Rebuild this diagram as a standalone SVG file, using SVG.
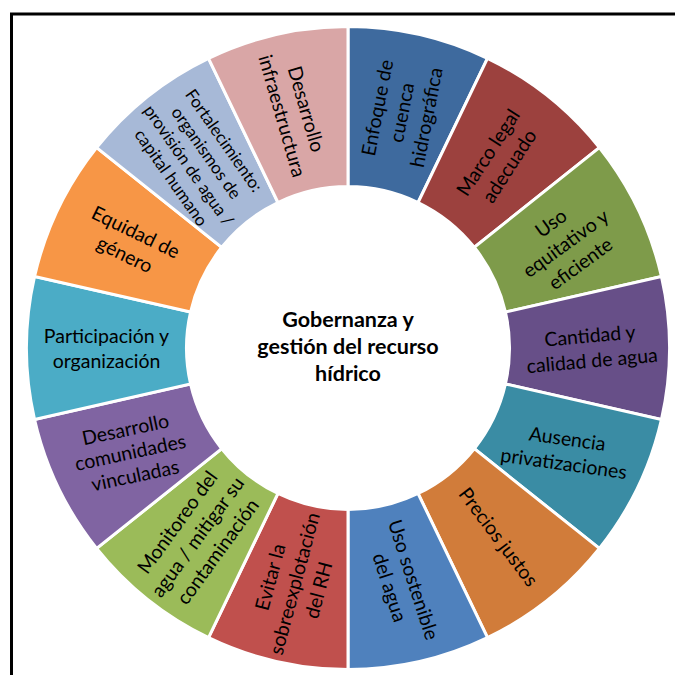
<svg xmlns="http://www.w3.org/2000/svg" width="675" height="675" viewBox="0 0 675 675">
<style>
.seg{stroke:#fff;stroke-width:3;stroke-linejoin:miter}
.lbl{font-family:Lato,"Liberation Sans",sans-serif;font-size:19.5px;fill:#000;text-anchor:middle}
.sm{font-size:17px}
.ctr{font-family:Lato,"Liberation Sans",sans-serif;font-size:21.5px;font-weight:bold;fill:#000;text-anchor:middle}
</style>
<rect x="0" y="0" width="675" height="675" fill="#fff"/>
<rect x="11.5" y="14" width="700" height="700" fill="none" stroke="#000" stroke-width="3"/>
<g id="ring">
<g id="n0"><path class="seg" fill="#3E6A9E" d="M348,26.5 A321.5,321.5 0 0 1 487.49,58.34 L418.07,202.49 A161.5,161.5 0 0 0 348,186.5 Z"/>
<text class="lbl" transform="translate(401.7,112.5) rotate(-79)"><tspan x="0" y="-18">Enfoque de</tspan><tspan x="0" y="7">cuenca</tspan><tspan x="0" y="32">hidrográfica</tspan></text></g>
<g id="n1"><path class="seg" fill="#9C413E" d="M487.49,58.34 A321.5,321.5 0 0 1 599.36,147.55 L474.27,247.31 A161.5,161.5 0 0 0 418.07,202.49 Z"/>
<text class="lbl" transform="translate(498.6,159.2) rotate(-57)"><tspan x="0" y="-5.5">Marco legal</tspan><tspan x="0" y="19.5">adecuado</tspan></text></g>
<g id="n2"><path class="seg" fill="#7E9B4A" d="M599.36,147.55 A321.5,321.5 0 0 1 661.44,276.46 L505.45,312.06 A161.5,161.5 0 0 0 474.27,247.31 Z"/>
<text class="lbl" transform="translate(565.6,243.2) rotate(-36)"><tspan x="0" y="-18">Uso</tspan><tspan x="0" y="7">equitativo y</tspan><tspan x="0" y="32">eficiente</tspan></text></g>
<g id="n3"><path class="seg" fill="#674F88" d="M661.44,276.46 A321.5,321.5 0 0 1 661.44,419.54 L505.45,383.94 A161.5,161.5 0 0 0 505.45,312.06 Z"/>
<text class="lbl" transform="translate(591,348) rotate(-5)"><tspan x="0" y="-5.5">Cantidad y</tspan><tspan x="0" y="19.5">calidad de agua</tspan></text></g>
<g id="n4"><path class="seg" fill="#3A8CA4" d="M661.44,419.54 A321.5,321.5 0 0 1 599.36,548.45 L474.27,448.69 A161.5,161.5 0 0 0 505.45,383.94 Z"/>
<text class="lbl" transform="translate(565.6,451) rotate(8)"><tspan x="0" y="-5.5">Ausencia</tspan><tspan x="0" y="19.5">privatizaciones</tspan></text></g>
<g id="n5"><path class="seg" fill="#D17C3A" d="M599.36,548.45 A321.5,321.5 0 0 1 487.49,637.66 L418.07,493.51 A161.5,161.5 0 0 0 474.27,448.69 Z"/>
<text class="lbl" transform="translate(498.6,536.8) rotate(53)"><tspan x="0" y="7">Precios justos</tspan></text></g>
<g id="n6"><path class="seg" fill="#4F81BD" d="M487.49,637.66 A321.5,321.5 0 0 1 348,669.5 L348,509.5 A161.5,161.5 0 0 0 418.07,493.51 Z"/>
<text class="lbl" transform="translate(401.7,583.5) rotate(72)"><tspan x="0" y="-5.5">Uso sostenible</tspan><tspan x="0" y="19.5">del agua</tspan></text></g>
<g id="n7"><path class="seg" fill="#C0504D" d="M348,669.5 A321.5,321.5 0 0 1 208.51,637.66 L277.93,493.51 A161.5,161.5 0 0 0 348,509.5 Z"/>
<text class="lbl" transform="translate(294.3,583.5) rotate(-75)"><tspan x="0" y="-18">Evitar la</tspan><tspan x="0" y="7">sobreexplotación</tspan><tspan x="0" y="32">del RH</tspan></text></g>
<g id="n8"><path class="seg" fill="#9BBB59" d="M208.51,637.66 A321.5,321.5 0 0 1 96.64,548.45 L221.73,448.69 A161.5,161.5 0 0 0 277.93,493.51 Z"/>
<text class="lbl" transform="translate(197.4,536.8) rotate(-54)"><tspan x="0" y="-18">Monitoreo del</tspan><tspan x="0" y="7">agua / mitigar su</tspan><tspan x="0" y="32">contaminación</tspan></text></g>
<g id="n9"><path class="seg" fill="#8064A2" d="M96.64,548.45 A321.5,321.5 0 0 1 34.56,419.54 L190.55,383.94 A161.5,161.5 0 0 0 221.73,448.69 Z"/>
<text class="lbl" transform="translate(130.4,452.8) rotate(-12)"><tspan x="0" y="-17">Desarrollo</tspan><tspan x="0" y="6.5">comunidades</tspan><tspan x="0" y="30">vinculadas</tspan></text></g>
<g id="n10"><path class="seg" fill="#4BACC6" d="M34.56,419.54 A321.5,321.5 0 0 1 34.56,276.46 L190.55,312.06 A161.5,161.5 0 0 0 190.55,383.94 Z"/>
<text class="lbl" transform="translate(106.5,348) rotate(0)"><tspan x="0" y="-5.5">Participación y</tspan><tspan x="0" y="19.5">organización</tspan></text></g>
<g id="n11"><path class="seg" fill="#F79646" d="M34.56,276.46 A321.5,321.5 0 0 1 96.64,147.55 L221.73,247.31 A161.5,161.5 0 0 0 190.55,312.06 Z"/>
<text class="lbl" transform="translate(130.4,243.2) rotate(26)"><tspan x="0" y="-5.5">Equidad de</tspan><tspan x="0" y="19.5">género</tspan></text></g>
<g id="n12"><path class="seg" fill="#A7B9D7" d="M96.64,147.55 A321.5,321.5 0 0 1 208.51,58.34 L277.93,202.49 A161.5,161.5 0 0 0 221.73,247.31 Z"/>
<text class="lbl sm" transform="translate(197.4,159.2) rotate(55)"><tspan x="0" y="-26.5">Fortalecimiento:</tspan><tspan x="0" y="-5">organismos de</tspan><tspan x="0" y="16.5">provisión de agua /</tspan><tspan x="0" y="38">capital humano</tspan></text></g>
<g id="n13"><path class="seg" fill="#D9A6A6" d="M208.51,58.34 A321.5,321.5 0 0 1 348,26.5 L348,186.5 A161.5,161.5 0 0 0 277.93,202.49 Z"/>
<text class="lbl" transform="translate(294.3,112.5) rotate(74)"><tspan x="0" y="-5.5">Desarrollo</tspan><tspan x="0" y="19.5">infraestructura</tspan></text></g>
</g>
<g id="center">
<text class="ctr"><tspan x="348" y="327">Gobernanza y</tspan><tspan x="348" y="354">gestión del recurso</tspan><tspan x="348" y="380.5">hídrico</tspan></text>
</g>
<g id="connectors"/>
</svg>
